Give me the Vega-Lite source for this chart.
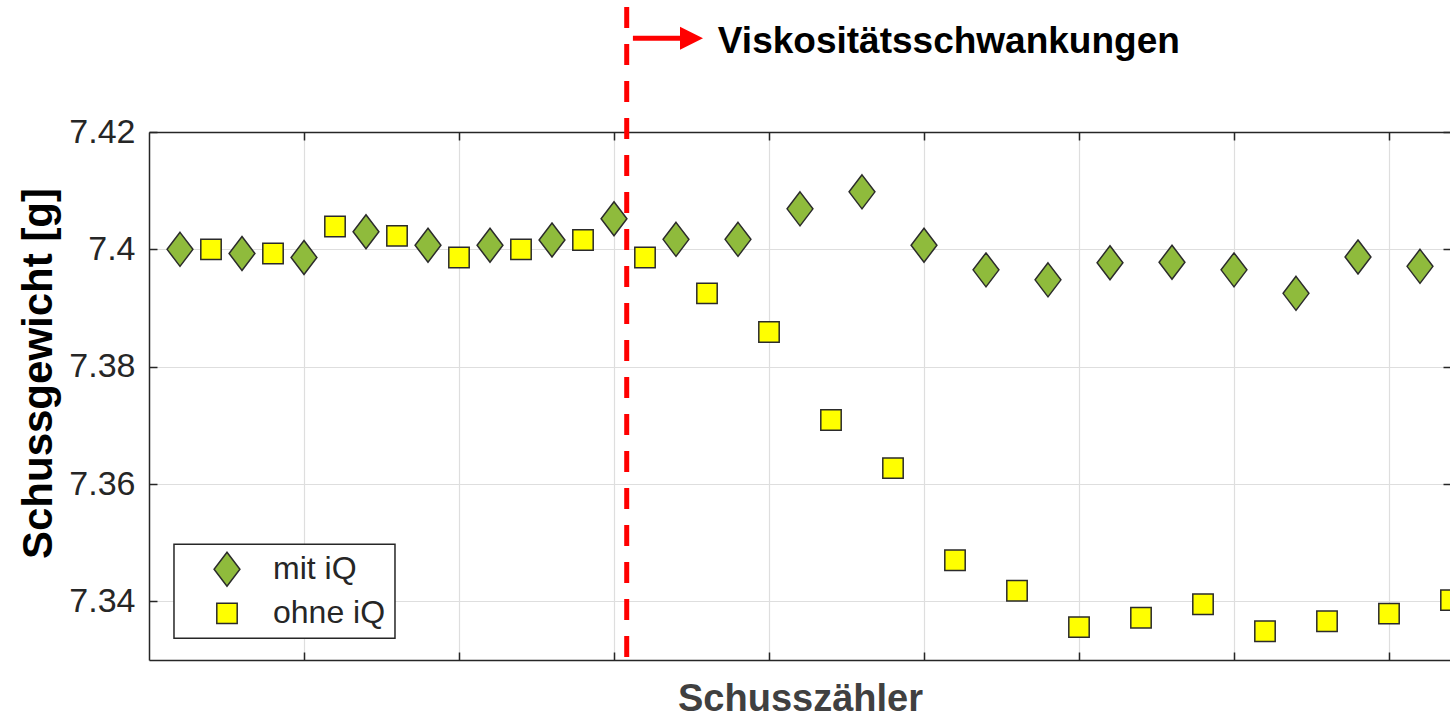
{
  "$schema": "https://vega.github.io/schema/vega-lite/v6.json",
  "width": 1302,
  "height": 528,
  "autosize": {"type": "none"},
  "padding": {"left": 149, "top": 132, "right": 0, "bottom": 57},
  "background": "white",
  "config": {
    "view": {"stroke": null},
    "font": "Liberation Sans",
    "axis": {
      "labelFont": "Liberation Sans",
      "labelFontSize": 34,
      "labelColor": "#262626",
      "domainColor": "#262626",
      "domainWidth": 1.5,
      "tickColor": "#262626",
      "tickWidth": 1.5,
      "gridColor": "#dedede",
      "gridWidth": 1.2,
      "titleFont": "Liberation Sans"
    }
  },
  "datasets": {
    "pts": [
      {"n": 1, "w": 7.4000, "s": "mit iQ"},
      {"n": 3, "w": 7.3993, "s": "mit iQ"},
      {"n": 5, "w": 7.3986, "s": "mit iQ"},
      {"n": 7, "w": 7.4030, "s": "mit iQ"},
      {"n": 9, "w": 7.4007, "s": "mit iQ"},
      {"n": 11, "w": 7.4007, "s": "mit iQ"},
      {"n": 13, "w": 7.4016, "s": "mit iQ"},
      {"n": 15, "w": 7.4052, "s": "mit iQ"},
      {"n": 17, "w": 7.4017, "s": "mit iQ"},
      {"n": 19, "w": 7.4017, "s": "mit iQ"},
      {"n": 21, "w": 7.4069, "s": "mit iQ"},
      {"n": 23, "w": 7.4098, "s": "mit iQ"},
      {"n": 25, "w": 7.4007, "s": "mit iQ"},
      {"n": 27, "w": 7.3965, "s": "mit iQ"},
      {"n": 29, "w": 7.3948, "s": "mit iQ"},
      {"n": 31, "w": 7.3977, "s": "mit iQ"},
      {"n": 33, "w": 7.3978, "s": "mit iQ"},
      {"n": 35, "w": 7.3965, "s": "mit iQ"},
      {"n": 37, "w": 7.3925, "s": "mit iQ"},
      {"n": 39, "w": 7.3987, "s": "mit iQ"},
      {"n": 41, "w": 7.3971, "s": "mit iQ"},
      {"n": 2, "w": 7.4000, "s": "ohne iQ"},
      {"n": 4, "w": 7.3993, "s": "ohne iQ"},
      {"n": 6, "w": 7.4039, "s": "ohne iQ"},
      {"n": 8, "w": 7.4023, "s": "ohne iQ"},
      {"n": 10, "w": 7.3986, "s": "ohne iQ"},
      {"n": 12, "w": 7.4000, "s": "ohne iQ"},
      {"n": 14, "w": 7.4016, "s": "ohne iQ"},
      {"n": 16, "w": 7.3986, "s": "ohne iQ"},
      {"n": 18, "w": 7.3925, "s": "ohne iQ"},
      {"n": 20, "w": 7.3859, "s": "ohne iQ"},
      {"n": 22, "w": 7.3709, "s": "ohne iQ"},
      {"n": 24, "w": 7.3627, "s": "ohne iQ"},
      {"n": 26, "w": 7.3470, "s": "ohne iQ"},
      {"n": 28, "w": 7.3418, "s": "ohne iQ"},
      {"n": 30, "w": 7.3356, "s": "ohne iQ"},
      {"n": 32, "w": 7.3372, "s": "ohne iQ"},
      {"n": 34, "w": 7.3395, "s": "ohne iQ"},
      {"n": 36, "w": 7.3349, "s": "ohne iQ"},
      {"n": 38, "w": 7.3366, "s": "ohne iQ"},
      {"n": 40, "w": 7.3379, "s": "ohne iQ"},
      {"n": 42, "w": 7.3402, "s": "ohne iQ"}
    ],
    "vline": [{"x": 15.41, "y": 7.4413, "y2": 7.33}],
    "arrow": [{"x": 15.61, "x2": 17.19, "y": 7.436}],
    "head": [{"x": 17.5, "y": 7.436}],
    "label": [{"x": 18.35, "y": 7.4335, "t": "Viskositätsschwankungen"}],
    "legbox": [{"x": 0.806, "x2": 7.935, "y": 7.34972, "y2": 7.33369}],
    "legitems": [
      {"s": "mit iQ", "sx": 2.516, "lx": 4.0, "y": 7.34546},
      {"s": "ohne iQ", "sx": 2.516, "lx": 4.0, "y": 7.33795}
    ]
  },
  "layer": [
    {
      "data": {"name": "pts"},
      "mark": {"type": "point", "filled": true, "stroke": "#2b2b2b", "strokeWidth": 1.5, "opacity": 1, "size": 1156},
      "encoding": {
        "x": {
          "field": "n", "type": "quantitative",
          "scale": {"domain": [0, 42], "nice": false, "zero": false},
          "axis": {
            "orient": "bottom", "values": [5, 10, 15, 20, 25, 30, 35, 40],
            "labels": false, "tickSize": -8, "grid": true,
            "title": "Schusszähler", "titleFontSize": 38, "titleFontWeight": "bold",
            "titleColor": "#404040", "titleX": 651, "titleY": 50,
            "titleAlign": "center", "titleBaseline": "alphabetic"
          }
        },
        "y": {
          "field": "w", "type": "quantitative",
          "scale": {"domain": [7.33, 7.42], "nice": false, "zero": false},
          "axis": {
            "orient": "left", "values": [7.34, 7.36, 7.38, 7.4, 7.42],
            "format": ".2~f", "tickSize": -8, "labelPadding": 22, "grid": true,
            "title": "Schussgewicht [g]", "titleFontSize": 42, "titleFontWeight": "bold",
            "titleColor": "black", "titleX": -98, "titleY": 241, "titleAngle": -90,
            "titleAlign": "center", "titleBaseline": "alphabetic"
          }
        },
        "shape": {
          "field": "s", "type": "nominal",
          "scale": {"domain": ["mit iQ", "ohne iQ"], "range": ["M0,-1L0.76,0L0,1L-0.76,0Z", "M-0.6,-0.6L0.6,-0.6L0.6,0.6L-0.6,0.6Z"]},
          "legend": null
        },
        "fill": {
          "field": "s", "type": "nominal",
          "scale": {"domain": ["mit iQ", "ohne iQ"], "range": ["#8fbb3c", "#ffff00"]},
          "legend": null
        }
      }
    },
    {
      "data": {"name": "vline"},
      "mark": {"type": "rule", "color": "#ff0000", "strokeWidth": 5, "strokeDash": [21, 16]},
      "encoding": {
        "x": {
          "field": "x", "type": "quantitative",
          "scale": {"domain": [0, 42], "nice": false, "zero": false},
          "axis": {"orient": "top", "values": [5, 10, 15, 20, 25, 30, 35, 40], "labels": false, "tickSize": -8, "grid": false, "title": null}
        },
        "y": {
          "field": "y", "type": "quantitative",
          "scale": {"domain": [7.33, 7.42], "nice": false, "zero": false},
          "axis": {"orient": "right", "values": [7.34, 7.36, 7.38, 7.4, 7.42], "labels": false, "tickSize": -8, "grid": false, "title": null}
        },
        "y2": {"field": "y2"}
      }
    },
    {
      "data": {"name": "arrow"},
      "mark": {"type": "rule", "color": "#ff0000", "strokeWidth": 5},
      "encoding": {
        "x": {"field": "x", "type": "quantitative", "scale": {"domain": [0, 42], "nice": false, "zero": false}, "axis": null},
        "x2": {"field": "x2"},
        "y": {"field": "y", "type": "quantitative", "scale": {"domain": [7.33, 7.42], "nice": false, "zero": false}, "axis": null}
      }
    },
    {
      "data": {"name": "head"},
      "mark": {"type": "point", "filled": true, "shape": "M-1,-1L1,0L-1,1Z", "size": 529, "color": "#ff0000", "opacity": 1, "strokeWidth": 0},
      "encoding": {
        "x": {"field": "x", "type": "quantitative", "scale": {"domain": [0, 42], "nice": false, "zero": false}, "axis": null},
        "y": {"field": "y", "type": "quantitative", "scale": {"domain": [7.33, 7.42], "nice": false, "zero": false}, "axis": null}
      }
    },
    {
      "data": {"name": "label"},
      "mark": {"type": "text", "align": "left", "baseline": "alphabetic", "font": "Liberation Sans", "fontSize": 37, "fontWeight": "bold", "color": "black"},
      "encoding": {
        "x": {"field": "x", "type": "quantitative", "scale": {"domain": [0, 42], "nice": false, "zero": false}, "axis": null},
        "y": {"field": "y", "type": "quantitative", "scale": {"domain": [7.33, 7.42], "nice": false, "zero": false}, "axis": null},
        "text": {"field": "t"}
      }
    },
    {
      "data": {"name": "legbox"},
      "mark": {"type": "rect", "fill": "white", "stroke": "#262626", "strokeWidth": 1.5},
      "encoding": {
        "x": {"field": "x", "type": "quantitative", "scale": {"domain": [0, 42], "nice": false, "zero": false}, "axis": null},
        "x2": {"field": "x2"},
        "y": {"field": "y", "type": "quantitative", "scale": {"domain": [7.33, 7.42], "nice": false, "zero": false}, "axis": null},
        "y2": {"field": "y2"}
      }
    },
    {
      "data": {"name": "legitems"},
      "mark": {"type": "point", "filled": true, "stroke": "#2b2b2b", "strokeWidth": 1.5, "opacity": 1, "size": 1156},
      "encoding": {
        "x": {"field": "sx", "type": "quantitative", "scale": {"domain": [0, 42], "nice": false, "zero": false}, "axis": null},
        "y": {"field": "y", "type": "quantitative", "scale": {"domain": [7.33, 7.42], "nice": false, "zero": false}, "axis": null},
        "shape": {"field": "s", "type": "nominal", "legend": null},
        "fill": {"field": "s", "type": "nominal", "legend": null}
      }
    },
    {
      "data": {"name": "legitems"},
      "mark": {"type": "text", "align": "left", "baseline": "middle", "font": "Liberation Sans", "fontSize": 32, "color": "#262626"},
      "encoding": {
        "x": {"field": "lx", "type": "quantitative", "scale": {"domain": [0, 42], "nice": false, "zero": false}, "axis": null},
        "y": {"field": "y", "type": "quantitative", "scale": {"domain": [7.33, 7.42], "nice": false, "zero": false}, "axis": null},
        "text": {"field": "s"}
      }
    }
  ],
  "resolve": {"axis": {"x": "independent", "y": "independent"}}
}
